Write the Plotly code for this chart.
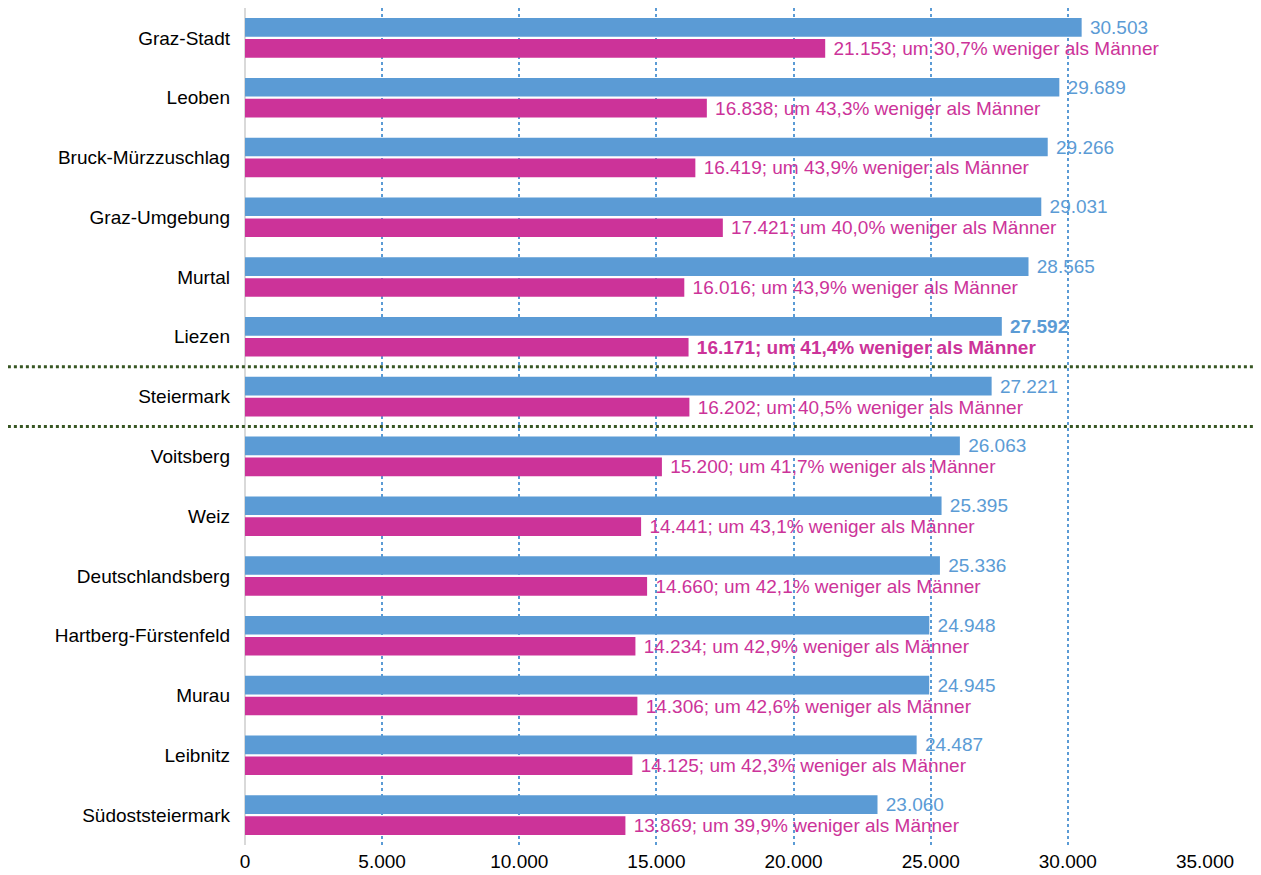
import plotly.graph_objects as go

regions = ["Graz-Stadt", "Leoben", "Bruck-Mürzzuschlag", "Graz-Umgebung", "Murtal", "Liezen",
           "Steiermark", "Voitsberg", "Weiz", "Deutschlandsberg", "Hartberg-Fürstenfeld",
           "Murau", "Leibnitz", "Südoststeiermark"]
men = [30503, 29689, 29266, 29031, 28565, 27592, 27221, 26063, 25395, 25336, 24948, 24945, 24487, 23060]
women = [21153, 16838, 16419, 17421, 16016, 16171, 16202, 15200, 14441, 14660, 14234, 14306, 14125, 13869]
pct_less = ["30,7", "43,3", "43,9", "40,0", "43,9", "41,4", "40,5", "41,7", "43,1", "42,1", "42,9",
            "42,6", "42,3", "39,9"]
bold_region = "Liezen"
separators_after = ["Liezen", "Steiermark"]
tick_vals = [0, 5000, 10000, 15000, 20000, 25000, 30000, 35000]

BLUE = "#5B9BD5"
PINK = "#CC3399"
FONT = "Liberation Sans, Arial, sans-serif"
FS = 19


def de(n):
    return f"{n:,}".replace(",", ".")


men_text, women_text = [], []
for r, m, w, p in zip(regions, men, women, pct_less):
    mt = de(m)
    wt = f"{de(w)}; um {p}% weniger als Männer"
    if r == bold_region:
        mt, wt = f"<b>{mt}</b>", f"<b>{wt}</b>"
    men_text.append("\u00a0" + mt)
    women_text.append("\u00a0" + wt)

fig = go.Figure()
fig.add_trace(go.Bar(y=regions, x=men, orientation="h", marker_color=BLUE, marker_line_width=0,
                     text=men_text, textposition="outside", cliponaxis=False,
                     textfont=dict(color=BLUE, size=FS, family=FONT), constraintext="none",
                     name="Männer"))
fig.add_trace(go.Bar(y=regions, x=women, orientation="h", marker_color=PINK, marker_line_width=0,
                     text=women_text, textposition="outside", cliponaxis=False,
                     textfont=dict(color=PINK, size=FS, family=FONT), constraintext="none",
                     name="Frauen"))

for r in separators_after:
    i = regions.index(r)
    fig.add_shape(type="line", xref="paper", yref="y", x0=-0.247, x1=1.056, y0=i + 0.5, y1=i + 0.5,
                  line=dict(color="#375623", width=3, dash="dot"), layer="above")

fig.update_layout(
    width=1261, height=875, autosize=False,
    margin=dict(l=237, r=64, t=0, b=38, autoexpand=False),
    plot_bgcolor="white", paper_bgcolor="white",
    barmode="group", bargap=0.30, bargroupgap=0.11,
    showlegend=False,
    separators=",.",
    font=dict(family=FONT, size=FS, color="black"),
)
fig.update_xaxes(range=[0, 35000], tickvals=tick_vals, tickformat=",d", automargin=False,
                 showgrid=True, gridcolor=BLUE, gridwidth=1.5, griddash="dot",
                 zeroline=True, zerolinecolor="#D9D9D9", zerolinewidth=2,
                 showline=False, ticklabelstandoff=3, tickfont=dict(size=FS, color="black"))
fig.update_yaxes(autorange="reversed", showgrid=False, showline=False, zeroline=False,
                 automargin=False, ticks="", ticklabelstandoff=14,
                 tickfont=dict(size=FS, color="black"))

fig.write_html("out.html")
